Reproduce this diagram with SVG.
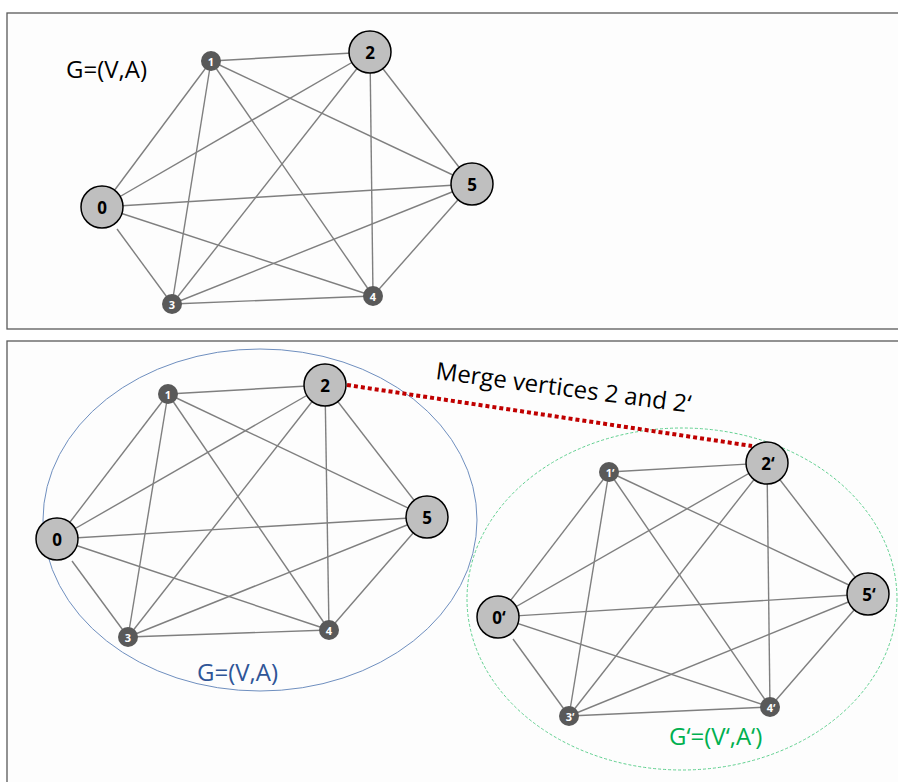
<svg xmlns="http://www.w3.org/2000/svg" width="898" height="782" viewBox="0 0 898 782">
<style>
.panel{fill:#fdfdfd;stroke:#595959;stroke-width:1.3}
.e{stroke:#7f7f7f;stroke-width:1.4;fill:none}
.big{fill:#bfbfbf;stroke:#000;stroke-width:1.5}
.sm{fill:#595959;stroke:none}
.bl{font-family:"Open Sans","DejaVu Sans",sans-serif;font-weight:bold;font-size:17px;fill:#000;text-anchor:middle;dominant-baseline:central}
.sl{font-family:"Open Sans","DejaVu Sans",sans-serif;font-weight:bold;font-size:11px;fill:#fff;text-anchor:middle;dominant-baseline:central}
.t{font-family:"Open Sans","DejaVu Sans",sans-serif;font-size:24px}
</style>
<rect class="panel" x="7" y="13" width="900" height="316"/>
<rect class="panel" x="7" y="341" width="900" height="460"/>
<text class="t" x="66" y="78" fill="#000">G=(V,A)</text>

<g id="connectors-top">
<line class="e" x1="211" y1="61" x2="370" y2="52"/>
<line class="e" x1="211" y1="61" x2="102" y2="207"/>
<line class="e" x1="211" y1="61" x2="172" y2="304"/>
<line class="e" x1="211" y1="61" x2="373" y2="296"/>
<line class="e" x1="211" y1="61" x2="472" y2="184"/>
<line class="e" x1="370" y1="52" x2="102" y2="207"/>
<line class="e" x1="370" y1="52" x2="172" y2="304"/>
<line class="e" x1="370" y1="52" x2="373" y2="296"/>
<line class="e" x1="370" y1="52" x2="472" y2="184"/>
<line class="e" x1="102" y1="207" x2="472" y2="184"/>
<line class="e" x1="117" y1="229" x2="172" y2="304"/>
<line class="e" x1="102" y1="207" x2="373" y2="296"/>
<line class="e" x1="172" y1="304" x2="373" y2="296"/>
<line class="e" x1="172" y1="304" x2="472" y2="184"/>
<line class="e" x1="373" y1="296" x2="472" y2="184"/>
</g>
<g id="t0"><circle class="big" cx="102" cy="207" r="21"/><text class="bl" x="102" y="207">0</text></g>
<g id="t1"><circle class="sm" cx="211" cy="61" r="10"/><text class="sl" x="211" y="61">1</text></g>
<g id="t2"><circle class="big" cx="370" cy="52" r="21"/><text class="bl" x="370" y="52">2</text></g>
<g id="t3"><circle class="sm" cx="172" cy="304" r="10"/><text class="sl" x="172" y="304">3</text></g>
<g id="t4"><circle class="sm" cx="373" cy="296" r="10"/><text class="sl" x="373" y="296">4</text></g>
<g id="t5"><circle class="big" cx="472" cy="184" r="21"/><text class="bl" x="472" y="184">5</text></g>

<ellipse cx="260" cy="520" rx="217" ry="171" fill="none" stroke="#6f8fbf" stroke-width="1"/>
<ellipse cx="682" cy="599" rx="215" ry="171" fill="none" stroke="#5fd08f" stroke-width="1" stroke-dasharray="3 2"/>

<g id="connectors-left">
<line class="e" x1="168" y1="394" x2="325" y2="385"/>
<line class="e" x1="168" y1="394" x2="57" y2="539"/>
<line class="e" x1="168" y1="394" x2="128" y2="637"/>
<line class="e" x1="168" y1="394" x2="329" y2="630"/>
<line class="e" x1="168" y1="394" x2="427" y2="517"/>
<line class="e" x1="325" y1="385" x2="57" y2="539"/>
<line class="e" x1="325" y1="385" x2="128" y2="637"/>
<line class="e" x1="325" y1="385" x2="329" y2="630"/>
<line class="e" x1="325" y1="385" x2="427" y2="517"/>
<line class="e" x1="57" y1="539" x2="427" y2="517"/>
<line class="e" x1="72" y1="561" x2="128" y2="637"/>
<line class="e" x1="57" y1="539" x2="329" y2="630"/>
<line class="e" x1="128" y1="637" x2="329" y2="630"/>
<line class="e" x1="128" y1="637" x2="427" y2="517"/>
<line class="e" x1="329" y1="630" x2="427" y2="517"/>
</g>
<g id="connectors-right">
<line class="e" x1="609" y1="472" x2="767" y2="463"/>
<line class="e" x1="609" y1="472" x2="498" y2="617"/>
<line class="e" x1="609" y1="472" x2="569" y2="716"/>
<line class="e" x1="609" y1="472" x2="770" y2="707"/>
<line class="e" x1="609" y1="472" x2="868" y2="594"/>
<line class="e" x1="767" y1="463" x2="498" y2="617"/>
<line class="e" x1="767" y1="463" x2="569" y2="716"/>
<line class="e" x1="767" y1="463" x2="770" y2="707"/>
<line class="e" x1="767" y1="463" x2="868" y2="594"/>
<line class="e" x1="498" y1="617" x2="868" y2="594"/>
<line class="e" x1="513" y1="639" x2="569" y2="716"/>
<line class="e" x1="498" y1="617" x2="770" y2="707"/>
<line class="e" x1="569" y1="716" x2="770" y2="707"/>
<line class="e" x1="569" y1="716" x2="868" y2="594"/>
<line class="e" x1="770" y1="707" x2="868" y2="594"/>
<line x1="347" y1="385" x2="752" y2="446" stroke="#c00000" stroke-width="4" stroke-dasharray="4 3"/>
</g>

<g id="b0"><circle class="big" cx="57" cy="539" r="21"/><text class="bl" x="57" y="539">0</text></g>
<g id="b1"><circle class="sm" cx="168" cy="394" r="10"/><text class="sl" x="168" y="394">1</text></g>
<g id="b2"><circle class="big" cx="325" cy="385" r="21"/><text class="bl" x="325" y="385">2</text></g>
<g id="b3"><circle class="sm" cx="128" cy="637" r="10"/><text class="sl" x="128" y="637">3</text></g>
<g id="b4"><circle class="sm" cx="329" cy="630" r="10"/><text class="sl" x="329" y="630">4</text></g>
<g id="b5"><circle class="big" cx="427" cy="517" r="21"/><text class="bl" x="427" y="517">5</text></g>

<g id="r0"><circle class="big" cx="498" cy="617" r="21"/><text class="bl" x="499" y="617">0‘</text></g>
<g id="r1"><circle class="sm" cx="609" cy="472" r="10"/><text class="sl" x="610" y="472">1‘</text></g>
<g id="r2"><circle class="big" cx="767" cy="463" r="21"/><text class="bl" x="768" y="463">2‘</text></g>
<g id="r3"><circle class="sm" cx="569" cy="716" r="10"/><text class="sl" x="570" y="716">3‘</text></g>
<g id="r4"><circle class="sm" cx="770" cy="707" r="10"/><text class="sl" x="771" y="707">4‘</text></g>
<g id="r5"><circle class="big" cx="868" cy="594" r="21"/><text class="bl" x="869" y="594">5‘</text></g>

<text class="t" x="197" y="681" fill="#2f5597">G=(V,A)</text>
<text class="t" x="669" y="745" fill="#00b050">G‘=(V‘,A‘)</text>
<text class="t" x="435" y="379" fill="#000" font-size="24" transform="rotate(7.5 435 379)">Merge vertices 2 and 2‘</text>
</svg>
